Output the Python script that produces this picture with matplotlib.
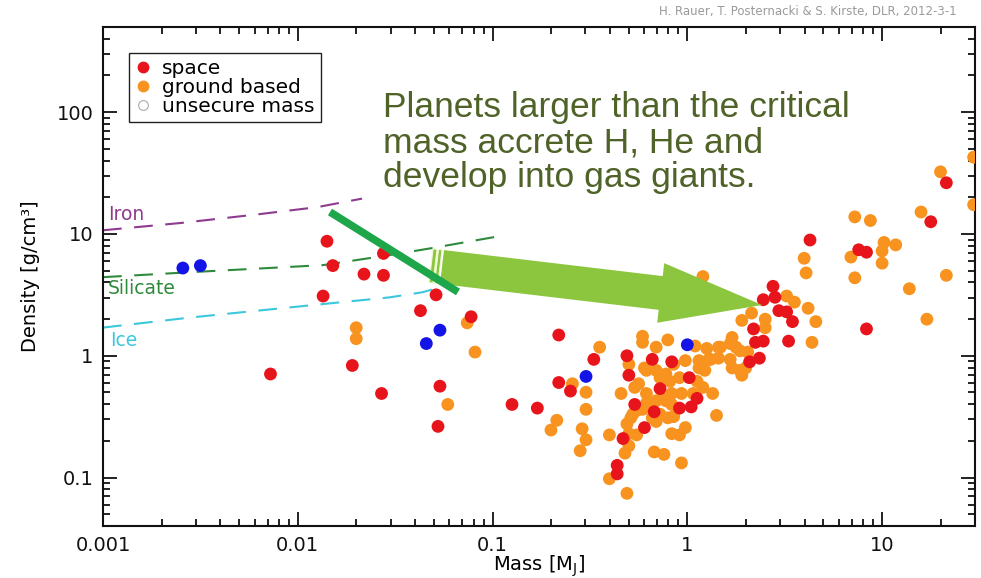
import matplotlib
matplotlib.use("Agg")
import numpy as np
import matplotlib.pyplot as plt
from matplotlib.patches import Polygon
from matplotlib.lines import Line2D
from matplotlib.ticker import FixedLocator, LogLocator, NullFormatter

plt.rcParams['font.family'] = ['DejaVu Sans']
plt.rcParams['mathtext.default'] = 'regular'

# ---------------------------------------------------------------- data
# log10 of planet mass [M_J] and mean density [g/cm^3]
space_log_mass = [-1.85, -1.82, -1.56, -1.66, -1.56, -1.87, -1.29, -1.37, -1.11, -1.72, -2.14, -1.57, -1.27, -1.28,
                  0.44, 0.45, 0.39, 0.47, 0.51, 0.54, 0.34, 0.52, 0.39, 0.35, 0.37, 0.32,
                  -0.66, -0.48, -0.66, -0.60, -0.90, -0.77, -0.31, -0.18, -0.08, -0.30, 0.01, -0.14, 0.05,
                  -0.27, -0.04, 0.02, -0.17, -0.22, -0.33, -0.36, -0.36,
                  1.33, 1.25, 0.63, 0.88, 0.92, 0.92]
space_log_density = [0.94, 0.74, 0.84, 0.67, 0.66, 0.49, 0.50, 0.37, 0.32, -0.08, -0.15, -0.31, -0.25, -0.58,
                     0.57, 0.48, 0.46, 0.37, 0.36, 0.28, 0.22, 0.12, 0.12, 0.11, -0.02, -0.05,
                     0.17, -0.03, -0.22, -0.29, -0.40, -0.43, 0.00, -0.03, -0.05, -0.16, -0.18, -0.27, -0.35,
                     -0.40, -0.43, -0.42, -0.46, -0.59, -0.68, -0.90, -0.97,
                     1.42, 1.10, 0.95, 0.87, 0.85, 0.22]

ground_log_mass = [-1.70, -1.70, -1.13, -1.09, -1.23,
                   0.08, 0.51, 0.55, 0.33, 0.28, 0.40, 0.40, 0.23, 0.22, 0.16, 0.27, 0.30, 0.23, 0.28, 0.22,
                   0.10, 0.16, -0.45, -0.59, -0.52, -0.52, -0.67, -0.70, -0.54, -0.52, -0.55, -0.40,
                   -0.23, -0.23, -0.16, -0.10, 0.04, -0.30, -0.22, -0.16, -0.11, -0.07, -0.01, 0.06, 0.11,
                   -0.04, 0.05, 0.08, -0.27, -0.34, -0.21, -0.08, -0.03, 0.03, 0.13, -0.13, -0.21, -0.16,
                   -0.28, -0.23, -0.14, -0.31, -0.16, -0.07, 0.15, -0.26, -0.01, -0.04, -0.30, -0.32, -0.17,
                   -0.12, -0.03, -0.40, -0.31,
                   0.06, 0.09, -0.21, -0.14, -0.09, -0.25, -0.11, -0.08, -0.26, -0.29, -0.18, -0.10, -0.08,
                   -0.30,
                   1.30, 1.47, 1.47, 0.86, 0.94, 1.20, 1.01, 1.07, 1.00, 0.84, 1.00, 0.60, 0.61, 0.86, 1.33,
                   1.14, 0.62, 0.66, 1.23, 0.64, 0.31, 0.17, 0.25, 0.27, 0.12]
ground_log_density = [0.23, 0.14, 0.27, 0.03, -0.40,
                      0.65, 0.49, 0.44, 0.35, 0.29, 0.30, 0.23, 0.15, 0.10, 0.07, 0.04, -0.10, -0.10, -0.16, -0.03,
                      0.06, -0.02, 0.07, -0.23, -0.30, -0.44, -0.53, -0.61, -0.60, -0.69, -0.78, -0.65,
                      0.16, 0.11, 0.07, 0.13, 0.08, -0.07, -0.10, -0.12, -0.15, -0.07, -0.04, -0.04, -0.03,
                      -0.18, -0.21, -0.26, -0.26, -0.31, -0.31, -0.31, -0.31, -0.31, -0.31, -0.35, -0.39, -0.37,
                      -0.48, -0.44, -0.48, -0.56, -0.54, -0.50, -0.49, -0.65, -0.59, -0.65, -0.74, -0.80, -0.79,
                      -0.81, -0.88, -1.01, -1.13,
                      -0.10, -0.12, -0.12, -0.18, -0.21, -0.23, -0.37, -0.40, -0.45, -0.51, -0.51, -0.51, -0.64,
                      -0.64,
                      1.51, 1.63, 1.24, 1.14, 1.11, 1.18, 0.93, 0.91, 0.86, 0.81, 0.76, 0.80, 0.68, 0.64, 0.66,
                      0.55, 0.39, 0.28, 0.30, 0.11, 0.03, 0.07, 0.07, -0.12, -0.03]

blue_log_mass = [-2.59, -2.50, -1.27, -1.34, -0.52, 0.00]
blue_log_density = [0.72, 0.74, 0.21, 0.10, -0.17, 0.09]

# pure-composition density curves (log10 mass, log10 density)
iron_log_mass = [-3.00, -2.60, -2.21, -1.90, -1.67]
iron_log_density = [1.03, 1.09, 1.16, 1.22, 1.29]
silicate_log_mass = [-3.00, -2.55, -1.87, -1.53, -1.31, -0.96]
silicate_log_density = [0.645, 0.686, 0.744, 0.826, 0.884, 0.983]
ice_log_mass = [-3.00, -2.55, -2.04, -1.53, -1.36, -1.27]
ice_log_density = [0.231, 0.314, 0.397, 0.479, 0.521, 0.562]

x_ticks = [0.001, 0.01, 0.1, 1, 10]
x_tick_labels = ['0.001', '0.01', '0.1', '1', '10']
y_ticks = [0.1, 1, 10, 100]
y_tick_labels = ['0.1', '1', '10', '100']

legend_labels = ['space', 'ground based', 'unsecure mass']
curve_labels = ['Iron', 'Silicate', 'Ice']
message = "Planets larger than the critical\nmass accrete H, He and\ndevelop into gas giants."
credit = "H. Rauer, T. Posternacki & S. Kirste, DLR, 2012-3-1"

# ---------------------------------------------------------------- figure
W, H = 981, 578
fig = plt.figure(figsize=(W / 100, H / 100), dpi=100)
ax = fig.add_axes([103 / W, (H - 526) / H, 872 / W, 499 / H])
ax.set_xscale('log')
ax.set_yscale('log')
ax.set_xlim(0.001, 30)
ax.set_ylim(0.04, 500)


def axfrac(x, y):
    """pixel position inside the figure -> axes fraction"""
    return (x - 103) / 872, (526 - y) / 499


RED = '#e8141b'
ORANGE = '#f7931e'
BLUE = '#1414e6'
C_IRON = '#8e3a8e'
C_SIL = '#2f8a3c'
C_ICE = '#3cc8dc'

# composition curves
for lm, ld, c in [(iron_log_mass, iron_log_density, C_IRON),
                  (silicate_log_mass, silicate_log_density, C_SIL),
                  (ice_log_mass, ice_log_density, C_ICE)]:
    ax.plot(10 ** np.array(lm), 10 ** np.array(ld), color=c, lw=1.5,
            dashes=(9, 6), zorder=2)

for label, c, (px, py) in zip(curve_labels, [C_IRON, C_SIL, C_ICE],
                              [(108, 215), (108, 289), (110, 341)]):
    fx, fy = axfrac(px, py)
    ax.text(fx, fy, label, transform=ax.transAxes, color=c, fontsize=13.5,
            ha='left', va='center', zorder=3)

# planets
ms = 85
ax.scatter(10 ** np.array(ground_log_mass), 10 ** np.array(ground_log_density),
           s=ms, color=ORANGE, edgecolors='none', zorder=4)
ax.scatter(10 ** np.array(space_log_mass), 10 ** np.array(space_log_density),
           s=ms, color=RED, edgecolors='none', zorder=5)
ax.scatter(10 ** np.array(blue_log_mass), 10 ** np.array(blue_log_density),
           s=ms, color=BLUE, edgecolors='none', zorder=5)

# ---------------------------------------------------------------- arrows
ARROW_GREEN = '#8cc63f'
tail = np.array([442.0, 267.0])
tip = np.array([762.0, 305.0])
u = (tip - tail) / np.linalg.norm(tip - tail)
n = np.array([-u[1], u[0]])
shaft_hw, head_hw, head_len = 17.0, 30.0, 102.0
base = tip - head_len * u
pts = [tail - shaft_hw * n, base - shaft_hw * n, base - head_hw * n, tip,
       base + head_hw * n, base + shaft_hw * n, tail + shaft_hw * n]
ax.add_patch(Polygon([axfrac(*p) for p in pts], closed=True, transform=ax.transAxes,
                     facecolor=ARROW_GREEN, edgecolor='none', zorder=6, clip_on=False))
# stripes at the arrow tail
for off, wd in [(-11.0, 4.0), (-5.5, 3.5)]:
    a = tail + off * u
    b = a + wd * u
    stripe = [a - shaft_hw * n, b - shaft_hw * n, b + shaft_hw * n, a + shaft_hw * n]
    ax.add_patch(Polygon([axfrac(*p) for p in stripe], closed=True, transform=ax.transAxes,
                         facecolor=ARROW_GREEN, edgecolor='#eef7d0', lw=0.8, zorder=6,
                         clip_on=False))

# critical-mass marker line
p0, p1 = axfrac(330, 212), axfrac(458, 292)
ax.plot([p0[0], p1[0]], [p0[1], p1[1]], transform=ax.transAxes, color='#1ea64b',
        lw=5.5, solid_capstyle='butt', zorder=7)

tx, ty = axfrac(383, 91)
ax.text(tx, ty, message, transform=ax.transAxes, ha='left', va='top',
        fontsize=25.5, color='#4f6228', family=['Liberation Sans', 'DejaVu Sans'],
        linespacing=1.08, zorder=8)

# ---------------------------------------------------------------- axes styling
ax.xaxis.set_major_locator(FixedLocator(x_ticks))
ax.xaxis.set_minor_locator(LogLocator(base=10, subs=np.arange(2, 10)))
ax.yaxis.set_major_locator(FixedLocator(y_ticks))
ax.yaxis.set_minor_locator(LogLocator(base=10, subs=np.arange(2, 10)))
ax.xaxis.set_minor_formatter(NullFormatter())
ax.yaxis.set_minor_formatter(NullFormatter())
ax.set_xticklabels(x_tick_labels)
ax.set_yticklabels(y_tick_labels)
ax.tick_params(which='both', direction='in', top=True, right=True, width=1.3,
               colors='#111111', labelsize=14)
ax.tick_params(which='major', length=10, pad=7)
ax.tick_params(which='minor', length=5)
for sp in ax.spines.values():
    sp.set_linewidth(1.5)
    sp.set_color('#111111')

ax.set_xlabel('Mass [M$_J$]', fontsize=14, va='center')
ax.xaxis.set_label_coords(0.5, (526 - 566) / 499)
ax.set_ylabel('Density [g/cm³]', fontsize=14, va='center')
ax.yaxis.set_label_coords((31 - 103) / 872, 0.5)

handles = [Line2D([], [], ls='none', marker='o', ms=8.5, color=RED, mec='none'),
           Line2D([], [], ls='none', marker='o', ms=8.5, color=ORANGE, mec='none'),
           Line2D([], [], ls='none', marker='o', ms=7, mfc='white', mec='#aaaaaa', mew=0.8)]
lx, ly = axfrac(129, 53)
leg = ax.legend(handles, legend_labels, loc='upper left', bbox_to_anchor=(lx, ly),
                borderaxespad=0, fontsize=14.5, handlelength=0.8, handletextpad=0.55,
                labelspacing=0.0, borderpad=0.3, fancybox=False, framealpha=1)
leg.get_frame().set_edgecolor('#222222')
leg.get_frame().set_linewidth(1.0)
leg.set_zorder(9)

fig.text(957 / W, 1 - 11 / H, credit, ha='right', va='center', fontsize=8.5,
         color='#9a9a9a')

fig.savefig('out.png', dpi=100)
